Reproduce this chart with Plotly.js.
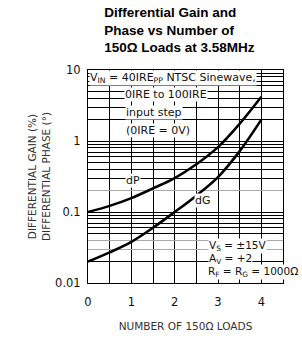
<!DOCTYPE html>
<html><head><meta charset="utf-8">
<script src="https://cdn.plot.ly/plotly-3.0.1.min.js"></script>
<style>body{margin:0;background:#fff}#plot{width:302px;height:339px}</style>
</head><body><div id="plot"></div>
<script>
const loads = [0, 0.5, 1, 1.5, 2, 2.5, 3, 3.5, 4];
const dP = [0.1, 0.122, 0.157, 0.215, 0.30, 0.47, 0.82, 1.75, 4.2];
const dG = [0.02, 0.027, 0.038, 0.060, 0.10, 0.17, 0.31, 0.72, 2.0];
const xTickVals = [0, 0.5, 1, 1.5, 2, 2.5, 3, 3.5, 4, 4.5];
const xTickText = ['0', '', '1', '', '2', '', '3', '', '4', ''];
const yGridBlack = [0.01,0.02,0.05,0.06,0.07,0.08,0.09,0.1,0.3,0.4,0.5,0.6,0.7,0.8,0.9,1,2,3,4,5,6,7,8,9,10];
const yGridGray = [0.03, 0.04, 0.2];
const yLabelled = [0.01, 0.1, 1, 10];
const yTickText = yGridBlack.map(v => yLabelled.includes(v) ? String(v) : '');

const F = 'DejaVu Sans, sans-serif';
const traces = [
  {x: loads, y: dP, mode: 'lines', line: {color: '#000', width: 2.6, shape: 'spline'}, hoverinfo: 'none'},
  {x: loads, y: dG, mode: 'lines', line: {color: '#000', width: 2.6, shape: 'spline'}, hoverinfo: 'none'},
  {x: [null], y: [null], yaxis: 'y2', mode: 'lines', showlegend: false}
];
function ann(text, x, y, xanchor, size) {
  return {text, x, y, xref: 'paper', yref: 'paper', xanchor, yanchor: 'middle',
    showarrow: false, bgcolor: '#fff', borderpad: 0, font: {family: F, size: size || 11, color: '#111'}};
}
const layout = {
  width: 302, height: 339,
  margin: {l: 88, r: 19, t: 70, b: 56},
  paper_bgcolor: '#fff', plot_bgcolor: '#fff',
  showlegend: false,
  title: {text: 'Differential Gain and<br>Phase vs Number of<br>150Ω Loads at 3.58MHz',
    font: {family: 'Liberation Sans, Arial, sans-serif', size: 13.5, color: '#000', weight: 'bold'},
    xref: 'container', yref: 'container', x: 0.345, xanchor: 'left', y: 0.95, yanchor: 'top', align: 'left'},
  xaxis: {range: [0, 4.5], tickvals: xTickVals, ticktext: xTickText, showgrid: true, gridcolor: '#000', gridwidth: 1,
    showline: true, linecolor: '#000', linewidth: 1, mirror: true, ticks: 'outside', ticklen: 8, tickcolor: 'rgba(0,0,0,0)',
    zeroline: false, tickfont: {family: F, size: 11.5, color: '#111'},
    title: {text: 'NUMBER OF 150Ω LOADS', font: {family: F, size: 10.5, color: '#333'}, standoff: 14}},
  yaxis: {type: 'log', range: [-2, 1], tickvals: yGridBlack, ticktext: yTickText, showgrid: true, gridcolor: '#000', gridwidth: 1,
    showline: true, linecolor: '#000', linewidth: 1, mirror: true, ticks: 'outside', ticklen: 4, tickcolor: 'rgba(0,0,0,0)',
    tickfont: {family: F, size: 11.5, color: '#111'},
    title: {text: 'DIFFERENTIAL GAIN (%)<br>DIFFERENTIAL PHASE (°)', font: {family: F, size: 10.5, color: '#333'}, standoff: 2}},
  yaxis2: {type: 'log', range: [-2, 1], overlaying: 'y', tickvals: yGridGray, showticklabels: false,
    showgrid: true, gridcolor: '#aaa', gridwidth: 1, ticks: ''},
  annotations: [
    ann('V<sub>IN</sub> = 40IRE<sub>PP</sub> NTSC Sinewave,', 0.005, 0.962, 'left'),
    ann('0IRE to 100IRE', 0.185, 0.885, 'left'),
    ann('input step', 0.19, 0.800, 'left'),
    ann('(0IRE = 0V)', 0.19, 0.716, 'left'),
    ann('dP', 0.232, 0.479, 'center'),
    ann('dG', 0.59, 0.385, 'center'),
    ann('V<sub>S</sub> = ±15V', 0.615, 0.175, 'left', 10.5),
    ann('A<sub>V</sub> = +2', 0.615, 0.113, 'left', 10.5),
    ann('R<sub>F</sub> = R<sub>G</sub> = 1000Ω', 0.61, 0.050, 'left', 10.5)
  ]
};
Plotly.newPlot('plot', traces, layout, {staticPlot: true, displayModeBar: false});
</script></body></html>
